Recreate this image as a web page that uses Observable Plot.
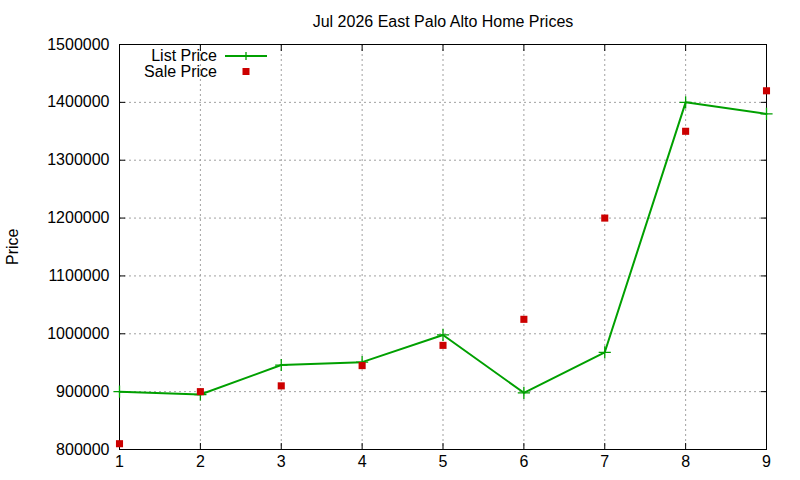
<!DOCTYPE html>
<html>
<head>
<meta charset="utf-8">
<script src="https://cdn.jsdelivr.net/npm/d3@7"></script>
<script src="https://cdn.jsdelivr.net/npm/@observablehq/plot@0.6"></script>
<style>
  html, body { margin: 0; padding: 0; background: #fff; }
  svg { font-family: "Liberation Sans", Arial, sans-serif; }
</style>
</head>
<body>
<div id="chart"></div>
<script>
const months = [1, 2, 3, 4, 5, 6, 7, 8, 9];
const listPrice = [900000, 895000, 946000, 951000, 998000, 898000, 968000, 1400000, 1380000];
const salePrice = [810000, 900000, 910000, 945000, 980000, 1025000, 1200000, 1350000, 1420000];
const yTicks = [800000, 900000, 1000000, 1100000, 1200000, 1300000, 1400000, 1500000];
const xTicks = [1, 2, 3, 4, 5, 6, 7, 8, 9];
const title = "Jul 2026 East Palo Alto Home Prices";
const yLabel = "Price";
const seriesNames = ["List Price", "Sale Price"];

const listData = months.map((m, i) => ({x: m, y: listPrice[i]}));
const saleData = months.map((m, i) => ({x: m, y: salePrice[i]}));

const GREEN = "#00a000";
const RED = "#cc0000";
const noLabel = () => "";

const chart = Plot.plot({
  width: 800,
  height: 480,
  marginLeft: 119,
  marginRight: 34,
  marginTop: 44,
  marginBottom: 31,
  style: {fontFamily: "Liberation Sans, Arial, sans-serif", fontSize: "16px", color: "#000", background: "#fff"},
  x: {domain: [1, 9], label: null},
  y: {domain: [800000, 1500000], label: null},
  marks: [
    Plot.gridX(xTicks.slice(1, -1), {stroke: "#a0a0a0", strokeOpacity: 1, strokeDasharray: "2,3", strokeWidth: 1}),
    Plot.gridY(yTicks.slice(1, -1), {stroke: "#a0a0a0", strokeOpacity: 1, strokeDasharray: "2,3", strokeWidth: 1}),
    Plot.axisY({ticks: yTicks, tickSize: -6, tickFormat: noLabel, anchor: "right", label: null, stroke: "#000"}),
    Plot.axisX({ticks: xTicks, tickSize: -6, tickFormat: noLabel, anchor: "top", label: null, stroke: "#000"}),
    Plot.axisY({ticks: yTicks, tickSize: -6, tickPadding: 16, tickFormat: d => String(d), anchor: "left", label: null, stroke: "#000", fontSize: 16}),
    Plot.axisX({ticks: xTicks, tickSize: -6, tickPadding: 12, tickFormat: d => String(d), anchor: "bottom", label: null, stroke: "#000", fontSize: 16}),
    Plot.frame({stroke: "#000", strokeWidth: 1}),
    Plot.line(listData, {x: "x", y: "y", stroke: GREEN, strokeWidth: 2}),
    Plot.dot(listData, {x: "x", y: "y", symbol: "plus", r: 4, stroke: GREEN, strokeWidth: 1.3}),
    Plot.dot(saleData, {x: "x", y: "y", symbol: "square", r: 4, fill: RED, stroke: "none"}),
    Plot.text([title], {frameAnchor: "top", dy: -29, fontSize: 16, fill: "#000"}),
    Plot.text([yLabel], {frameAnchor: "left", dx: -107, dy: 18, rotate: -90, fontSize: 16, fill: "#000"})
  ]
});

document.getElementById("chart").appendChild(chart);

// Legend (gnuplot-style key, top-left inside plot)
const svg = d3.select(chart);
const key = svg.append("g").attr("font-size", 16).attr("fill", "#000");
key.append("text").attr("x", 217).attr("y", 55).attr("dy", "0.35em").attr("text-anchor", "end").text(seriesNames[0]);
key.append("line").attr("x1", 225).attr("x2", 267).attr("y1", 56).attr("y2", 56).attr("stroke", GREEN).attr("stroke-width", 2);
key.append("path").attr("d", "M242,56h8M246,52v8").attr("stroke", GREEN).attr("stroke-width", 1.3);
key.append("text").attr("x", 217).attr("y", 71).attr("dy", "0.35em").attr("text-anchor", "end").text(seriesNames[1]);
key.append("rect").attr("x", 242.5).attr("y", 68).attr("width", 7).attr("height", 7).attr("fill", RED);
</script>
</body>
</html>
